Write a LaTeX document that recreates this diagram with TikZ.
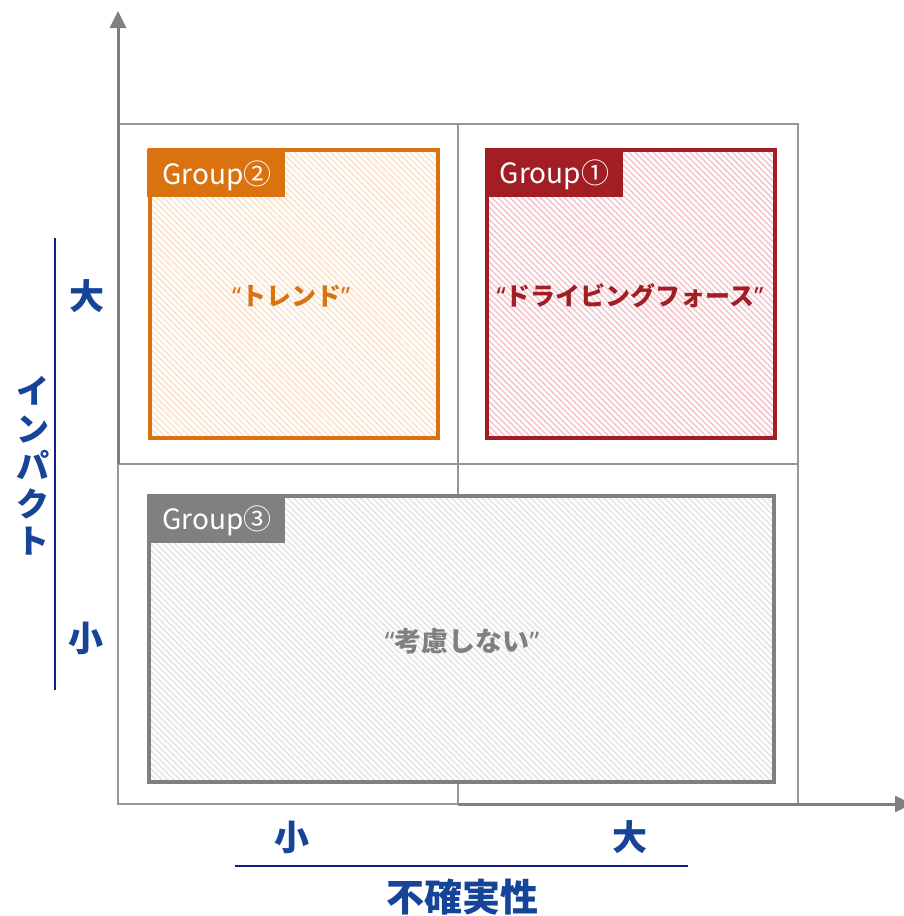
\documentclass[tikz,border=0pt]{standalone}
\usepackage{fontspec}
\usetikzlibrary{arrows.meta,patterns.meta}
\newfontfamily\jp{Noto Sans CJK JP}
\newfontfamily\qf{Noto Sans}
\definecolor{orng}{RGB}{218,114,15}
\definecolor{orngl}{RGB}{252,228,204}
\definecolor{redd}{RGB}{163,30,36}
\definecolor{reddl}{RGB}{245,198,203}
\definecolor{gryy}{RGB}{128,128,128}
\definecolor{gryyl}{RGB}{230,230,230}
\definecolor{gridc}{RGB}{150,150,150}
\definecolor{bluet}{RGB}{22,68,152}
\definecolor{navyl}{RGB}{20,30,130}
\newcommand{\myLQ}{{\qf\bfseries “}}
\newcommand{\myRQ}{{\qf\bfseries ”}}
\tikzset{
  gbox/.style={draw, line width=4pt, inner sep=0pt, outer sep=0pt,
     preaction={fill=white},
     pattern={Lines[angle=-45,distance=4.3pt,line width=1.6pt]}},
  gtab/.style={inner sep=0pt, outer sep=0pt, minimum width=138pt, minimum height=48pt},
  glabel/.style={text=white, font=\jp\fontsize{28}{30}\selectfont, inner sep=0pt},
  ctext/.style={font=\jp\bfseries\fontsize{25}{30}\selectfont, inner sep=0pt},
  axlab/.style={text=bluet, font=\jp\bfseries\fontsize{35}{40}\selectfont, inner sep=0pt},
  gridline/.style={draw=gridc, line width=1.3pt},
  axis/.style={draw=gryy, line width=3pt, -{Triangle[width=16pt,length=17pt]}},
  navyline/.style={draw=navyl, line width=1.2pt}
}
\begin{document}
\begin{tikzpicture}[x=1pt,y=-1pt]
\useasboundingbox (0,0) rectangle (903,916);
% grid
\draw[gridline] (118,124) rectangle (798,804);
\coordinate (gtop) at (458,124);
\coordinate (gbot) at (458,804);
\coordinate (gleft) at (118,464);
\coordinate (gright) at (798,464);
\draw[gridline] (gtop) -- (gbot);
\draw[gridline] (gleft) -- (gright);
% axes
\coordinate (vstart) at (118,464);
\coordinate (vend) at (118,11);
\coordinate (hstart) at (458,804);
\coordinate (hend) at (912,804);
\draw[axis] (vstart) -- (vend);
\draw[axis] (hstart) -- (hend);
% group boxes
\node[gbox, draw=orng, pattern color=orngl, minimum width=288pt, minimum height=288pt] (g2) at (293.5,293.5) {};
\node[gbox, draw=redd, pattern color=reddl, minimum width=288pt, minimum height=288pt] (g1) at (630.5,293.5) {};
\node[gbox, draw=gryy, pattern color=gryyl, minimum width=625pt, minimum height=286pt] (g3) at (461.5,639) {};
% tabs
\node[gtab, fill=orng] (t2) at (216,173) {};
\node[glabel] (l2) at (217,175.5) {Group②};
\node[gtab, fill=redd] (t1) at (553.5,172.5) {};
\node[glabel] (l1) at (554.5,175) {Group①};
\node[gtab, fill=gryy] (t3) at (216,518.5) {};
\node[glabel] (l3) at (217,521) {Group③};
% centre texts
\node[ctext, text=orng] (c2) at (291,296) {\myLQ トレンド\myRQ};
\node[ctext, text=redd] (c1) at (630,296) {\myLQ ドライビングフォース\myRQ};
\node[ctext, text=gryy, font=\jp\bfseries\fontsize{27}{30}\selectfont] (c3) at (462,641) {\myLQ 考慮しない\myRQ};
% vertical axis labels
\coordinate (vl1) at (55,238);
\coordinate (vl2) at (55,690);
\draw[navyline] (vl1) -- (vl2);
\node[axlab] (ybig) at (87,296) {大};
\node[axlab] (ysmall) at (86,638) {小};
\node[axlab, align=center, font=\jp\bfseries\fontsize{33}{37.5}\selectfont] (ytitle) at (33,466) {イ\\ン\\パ\\ク\\ト};
% horizontal axis labels
\coordinate (hl1) at (235,866);
\coordinate (hl2) at (688,866);
\draw[navyline] (hl1) -- (hl2);
\node[axlab] (xsmall) at (292,837) {小};
\node[axlab] (xbig) at (630,837) {大};
\node[axlab, font=\jp\bfseries\fontsize{38}{42}\selectfont] (xtitle) at (462,897) {不確実性};
\end{tikzpicture}
\end{document}
